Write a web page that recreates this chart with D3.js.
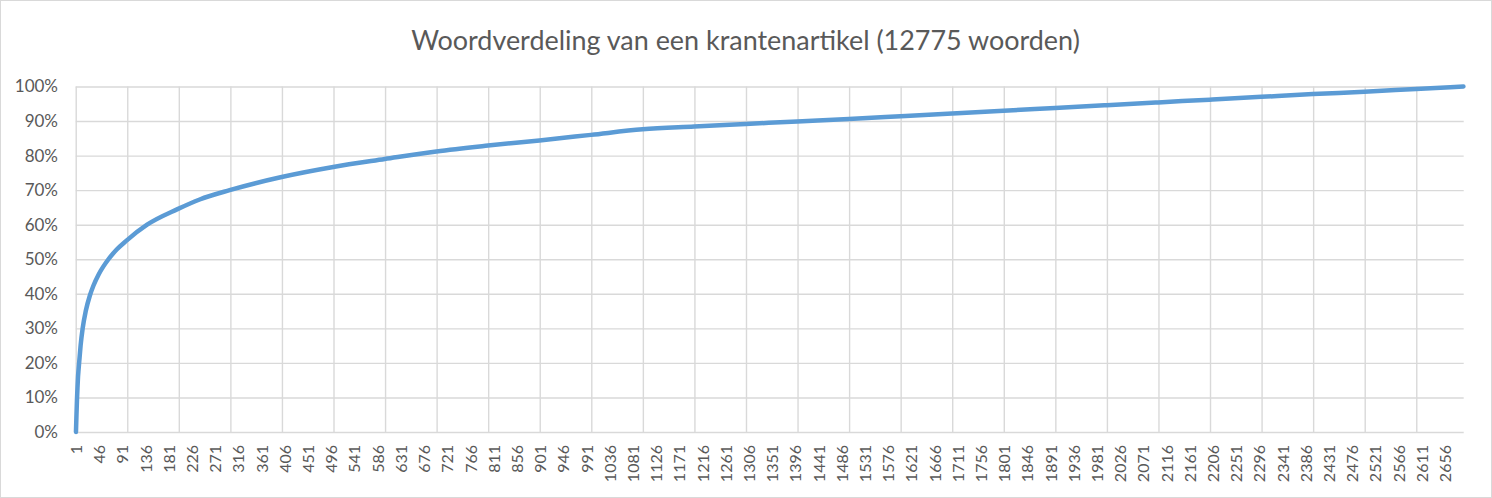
<!DOCTYPE html>
<html>
<head>
<meta charset="utf-8">
<script src="https://cdn.jsdelivr.net/npm/d3@7"></script>
<style>
  html, body { margin: 0; padding: 0; background: #ffffff; }
  svg { display: block; }
  text { font-family: Lato, "Open Sans", sans-serif; fill: #595959; }
</style>
</head>
<body>
<svg id="chart" width="1492" height="498"></svg>
<script>
// ---- data ----
const chartTitle = "Woordverdeling van een krantenartikel (12775 woorden)";
const totalWords = 2692;           // number of distinct words (categories 1..totalWords)
// rank of the word (category) and cumulative share of all words (%)
const ranks = [1, 2, 3, 4, 5, 6, 8, 10, 14, 20, 28, 35, 45, 64, 80, 99, 139, 198, 241, 299,
               400, 500, 600, 700, 800, 900, 1000, 1100, 1200, 1300, 1400, 1500, 1600,
               1700, 1800, 1900, 2000, 2100, 2200, 2300, 2400, 2500, 2600, 2692];
const cumulativePct = [0, 5, 9.5, 13, 16, 18, 21.5, 25, 30, 35, 39.5, 42.4, 45.6, 50, 52.8, 55.4, 60, 64.5, 67.3, 70,
               73.8, 76.7, 79, 81.2, 82.9, 84.4, 86, 87.6, 88.4, 89.15, 89.9, 90.6, 91.4,
               92.2, 93.0, 93.8, 94.6, 95.4, 96.2, 97.0, 97.8, 98.5, 99.3, 100];
const xTickLabels = [1, 46, 91, 136, 181, 226, 271, 316, 361, 406, 451, 496, 541, 586, 631, 676, 721, 766,
               811, 856, 901, 946, 991, 1036, 1081, 1126, 1171, 1216, 1261, 1306, 1351, 1396, 1441,
               1486, 1531, 1576, 1621, 1666, 1711, 1756, 1801, 1846, 1891, 1936, 1981, 2026, 2071,
               2116, 2161, 2206, 2251, 2296, 2341, 2386, 2431, 2476, 2521, 2566, 2611, 2656];
const yTickValues = [0, 0.1, 0.2, 0.3, 0.4, 0.5, 0.6, 0.7, 0.8, 0.9, 1.0];
const gridEvery = 100;   // vertical gridline interval in categories

// ---- layout ----
const svg = d3.select("#chart");
const W = 1492, H = 498;
const plot = { left: 75.7, right: 1463.7, top: 86.5, bottom: 432 };

svg.append("rect")
  .attr("x", 0.5).attr("y", 0.5).attr("width", W - 1).attr("height", H - 1)
  .attr("fill", "#ffffff").attr("stroke", "#d9d9d9").attr("stroke-width", 1);

const x = d3.scaleLinear().domain([0.5, totalWords + 0.5]).range([plot.left, plot.right]);
const y = d3.scaleLinear().domain([0, 1]).range([plot.bottom, plot.top]);

// horizontal gridlines
const yGrid = d3.axisLeft(y).tickValues(yTickValues).tickSize(-(plot.right - plot.left)).tickFormat("");
svg.append("g").attr("transform", `translate(${plot.left},0)`).call(yGrid)
  .call(g => g.select(".domain").remove())
  .call(g => g.selectAll("line").attr("stroke", "#d9d9d9").attr("stroke-width", 1.4));

// vertical gridlines (every 100 categories, on category boundaries)
const gridVals = d3.range(0.5, totalWords + 0.5, gridEvery);
const xGrid = d3.axisBottom(x).tickValues(gridVals).tickSize(-(plot.bottom - plot.top)).tickFormat("");
svg.append("g").attr("transform", `translate(0,${plot.bottom})`).call(xGrid)
  .call(g => g.select(".domain").remove())
  .call(g => g.selectAll("line").attr("stroke", "#d9d9d9").attr("stroke-width", 1.4));

// y axis labels
const yAxis = d3.axisLeft(y).tickValues(yTickValues).tickSize(0).tickPadding(0).tickFormat(d3.format(".0%"));
svg.append("g").attr("transform", `translate(58,0)`).call(yAxis)
  .call(g => g.select(".domain").remove())
  .call(g => g.selectAll("text").attr("fill", "#595959").style("font-size", "17px")
      .style("font-family", "Lato, 'Open Sans', sans-serif"));

// x axis labels (rotated)
const xAxis = d3.axisBottom(x).tickValues(xTickLabels).tickSize(0).tickFormat(d3.format("d"));
const xg = svg.append("g").attr("transform", `translate(0,${plot.bottom})`).call(xAxis);
xg.select(".domain").remove();
xg.selectAll(".tick text")
  .attr("fill", "#595959")
  .style("font-size", "16px")
  .style("font-family", "Lato, 'Open Sans', sans-serif")
  .attr("transform", "rotate(-90)")
  .attr("x", -13).attr("y", 0).attr("dy", "0.35em")
  .attr("text-anchor", "end");

// line
const data = ranks.map((r, i) => ({ rank: r, pct: cumulativePct[i] }));
const line = d3.line().x(d => x(d.rank)).y(d => y(d.pct / 100)).curve(d3.curveMonotoneX);
svg.append("path").datum(data)
  .attr("d", line)
  .attr("fill", "none")
  .attr("stroke", "#5b9bd5")
  .attr("stroke-width", 4.5)
  .attr("stroke-linejoin", "round")
  .attr("stroke-linecap", "round");

// title, fitted to the reference width
const title = svg.append("text")
  .attr("x", 745.5).attr("y", 50)
  .attr("text-anchor", "middle")
  .style("font-size", "26px")
  .text(chartTitle);
const tw = title.node().getComputedTextLength();
if (tw > 0) title.style("font-size", (26 * 669 / tw).toFixed(2) + "px");
</script>
</body>
</html>
